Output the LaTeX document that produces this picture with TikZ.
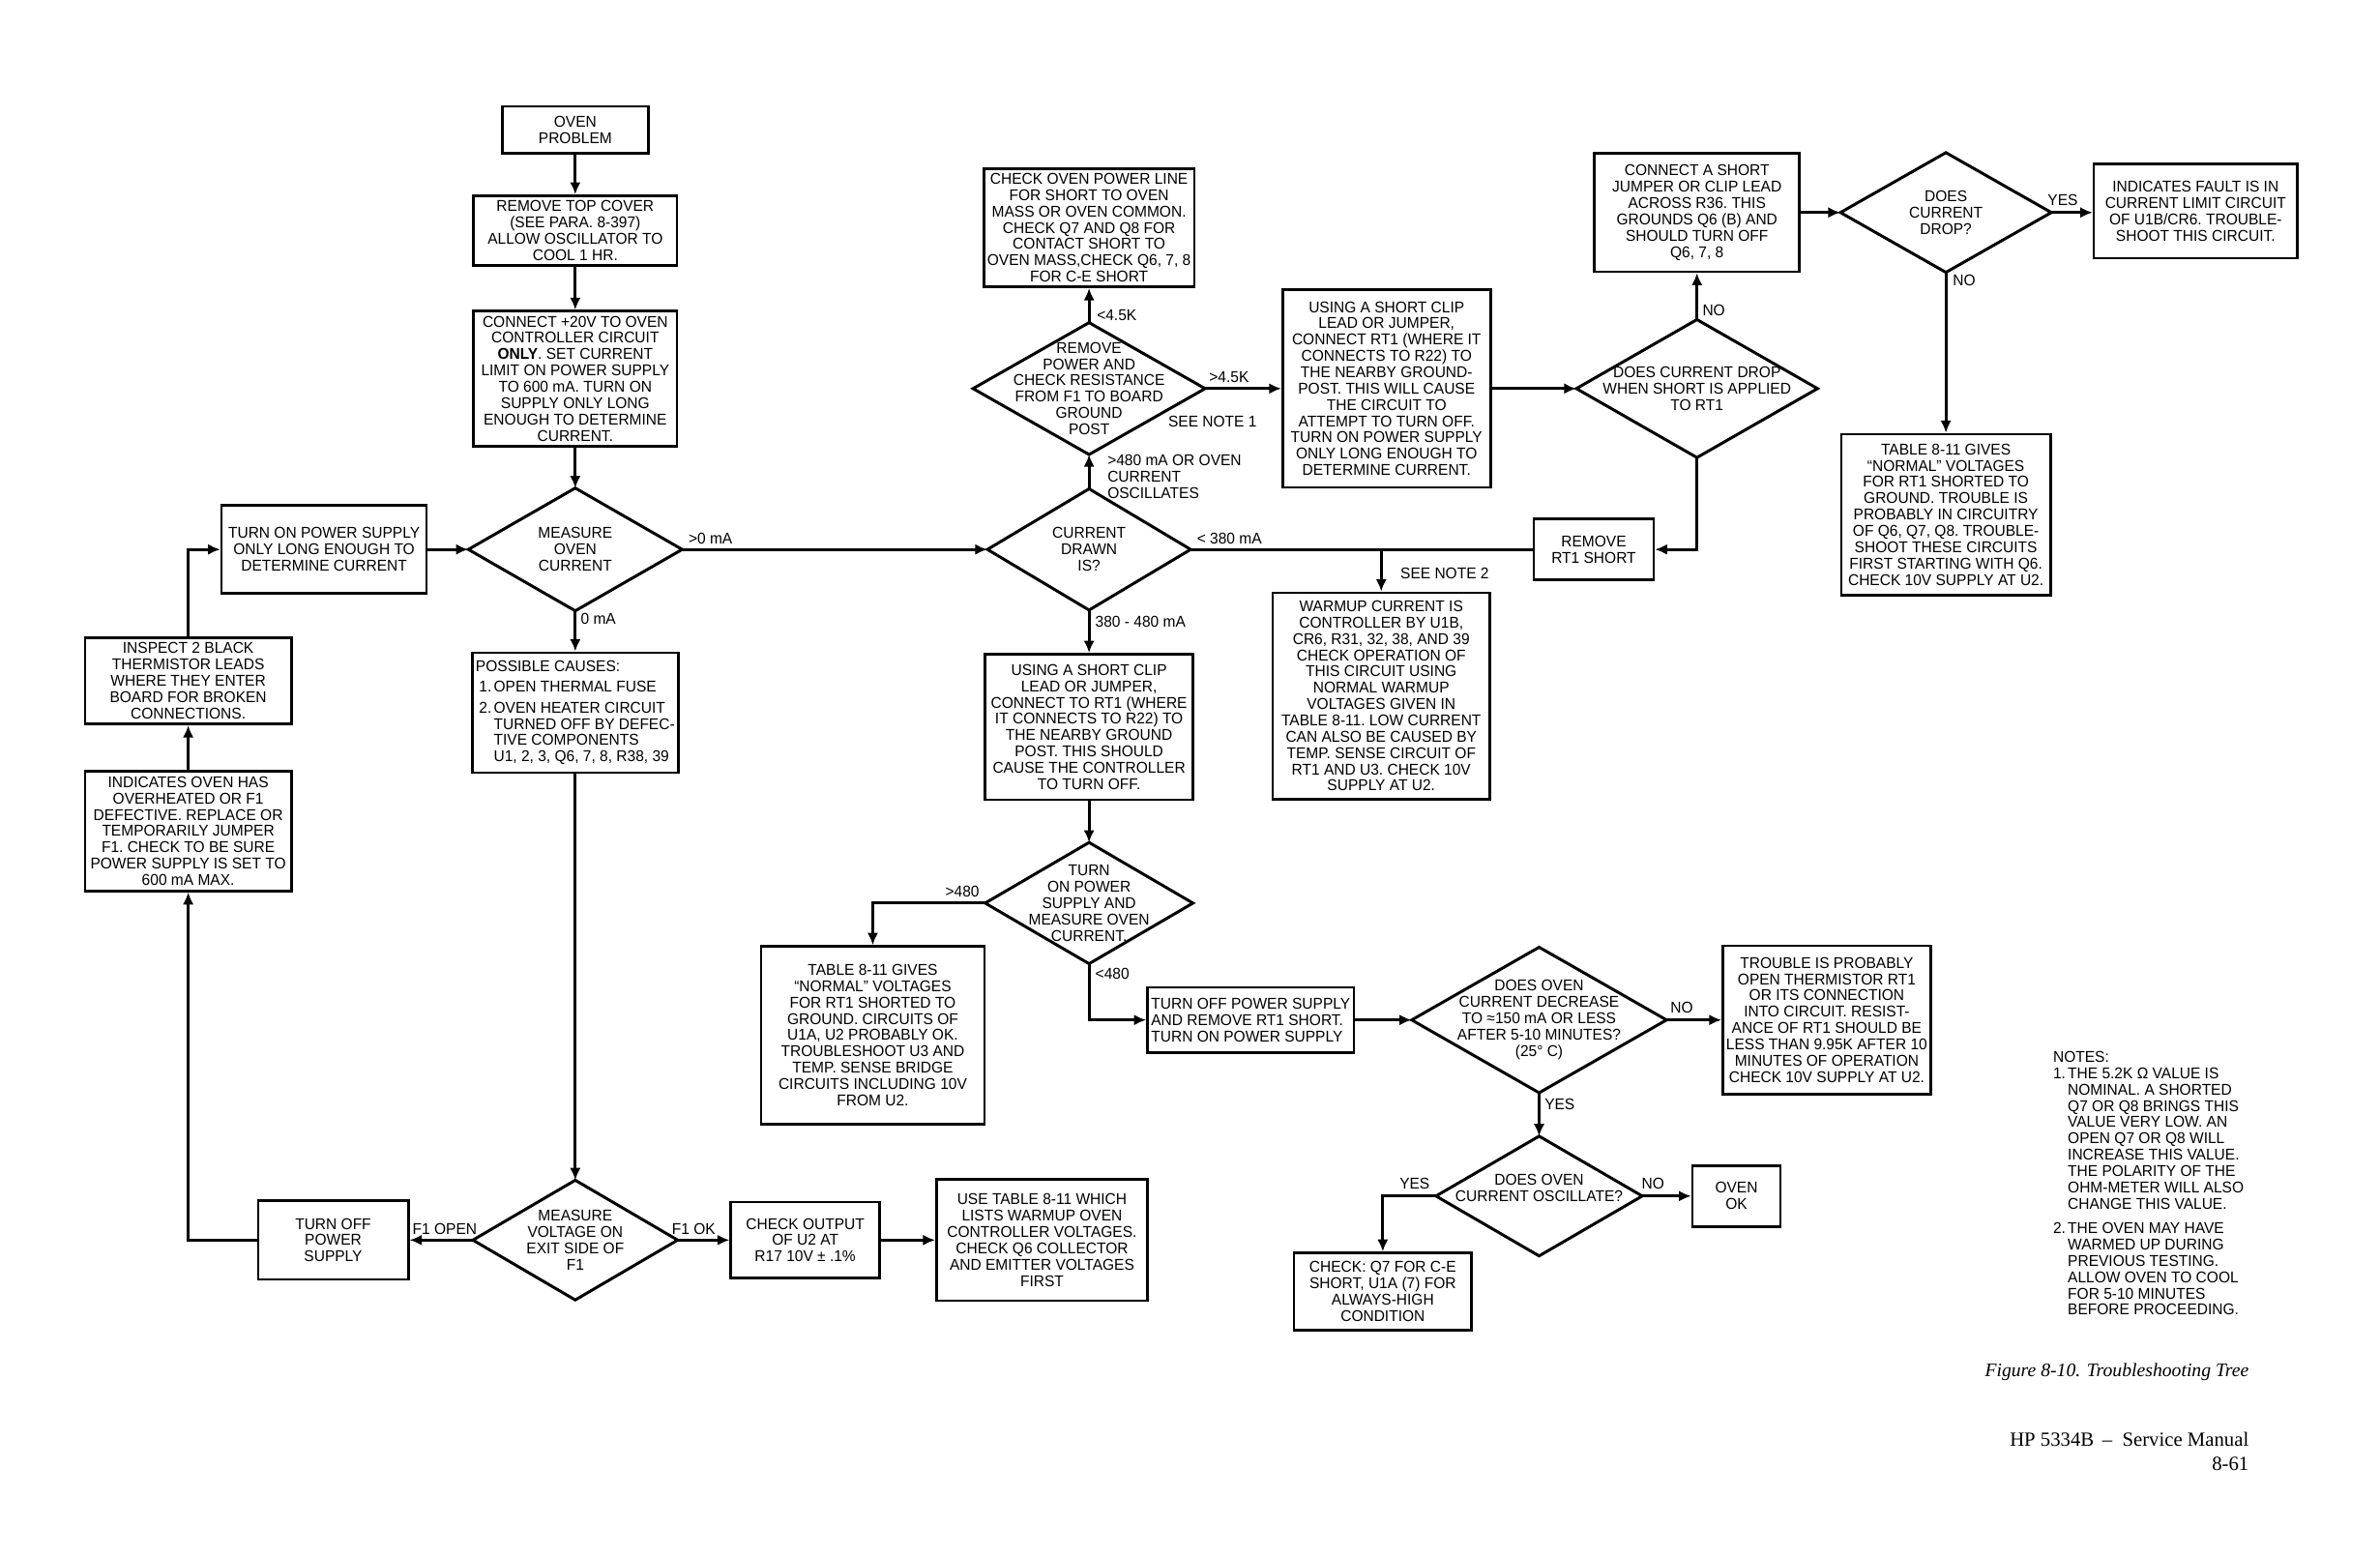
\documentclass[tikz,border=0pt]{standalone}
\usepackage{fontspec}
\usepackage{tikz}
\usetikzlibrary{arrows.meta}
\newfontfamily\flowfamily[FakeStretch=0.96]{Liberation Sans}
\newfontfamily\captionfamily{Liberation Serif}
\newcommand{\flowfont}{\flowfamily\fontsize{4.6}{4.8}\selectfont\frenchspacing}
\newcommand{\notenum}[1]{\makebox[4.3pt][l]{#1}}
\tikzset{sz/.style 2 args={minimum width=#1*0.44656pt,minimum height=#2*0.44656pt}}

\begin{document}
\begin{tikzpicture}[
 x=0.44656pt, y=-0.44656pt,
 every node/.style={font=\flowfont},
 box/.style={draw,line width=0.75pt,align=center,inner sep=1pt},
 decision/.style={inner sep=0pt,align=center},
 lab/.style={inner sep=1pt},
 arr/.style={line width=0.8pt,-{Latex[length=3.6pt,width=3.2pt]}},
 wire/.style={line width=0.8pt},
]
\path[use as bounding box,fill=white] (0,0) rectangle (1568,1025);

\node[box,sz={96}{31}] (problem) at (379,85.5) {OVEN\\PROBLEM};
\node[box,sz={134}{46}] (cover) at (379,152) {REMOVE TOP COVER\\(SEE PARA. 8-397)\\ALLOW OSCILLATOR TO\\COOL 1 HR.};
\node[box,sz={134}{89}] (connect) at (379,249.5) {CONNECT +20V TO OVEN\\CONTROLLER CIRCUIT\\\textbf{ONLY}. SET CURRENT\\LIMIT ON POWER SUPPLY\\TO 600 mA. TURN ON\\SUPPLY ONLY LONG\\ENOUGH TO DETERMINE\\CURRENT.};
\node[decision,sz={140}{80}] (measure) at (379,362) {MEASURE\\OVEN\\CURRENT};
\node[box,sz={135}{58}] (turnon) at (213.5,362) {TURN ON POWER SUPPLY\\ONLY LONG ENOUGH TO\\DETERMINE CURRENT};
\node[box,sz={136}{57}] (inspect) at (124,448.5) {INSPECT 2 BLACK\\THERMISTOR LEADS\\WHERE THEY ENTER\\BOARD FOR BROKEN\\CONNECTIONS.};
\node[box,sz={136}{79}] (overheat) at (124,547.5) {INDICATES OVEN HAS\\OVERHEATED OR F1\\DEFECTIVE. REPLACE OR\\TEMPORARILY JUMPER\\F1. CHECK TO BE SURE\\POWER SUPPLY IS SET TO\\600 mA MAX.};
\node[box,sz={134}{79},align=left] (causes) at (379,469.5) {POSSIBLE CAUSES:\\[1.3pt]\hspace*{1pt}\notenum{1.}OPEN THERMAL FUSE\\[1.3pt]\hspace*{1pt}\notenum{2.}OVEN HEATER CIRCUIT\\\hspace*{5.3pt}TURNED OFF BY DEFEC-\\\hspace*{5.3pt}TIVE COMPONENTS\\\hspace*{5.3pt}U1, 2, 3, Q6, 7, 8, R38, 39};
\node[decision,sz={134}{78}] (voltage) at (379,817) {MEASURE\\VOLTAGE ON\\EXIT SIDE OF\\F1};
\node[box,sz={99}{52}] (turnoff) at (219.5,817) {TURN OFF\\POWER\\SUPPLY};
\node[box,sz={98}{50}] (output) at (530.5,817) {CHECK OUTPUT\\OF U2 AT\\R17 10V ± .1\%};
\node[box,sz={139}{80}] (usetable) at (686.5,817) {USE TABLE 8-11 WHICH\\LISTS WARMUP OVEN\\CONTROLLER VOLTAGES.\\CHECK Q6 COLLECTOR\\AND EMITTER VOLTAGES\\FIRST};

\node[decision,sz={133}{79}] (drawn) at (717.5,362) {CURRENT\\DRAWN\\IS?};
\node[decision,sz={152}{86}] (resist) at (717.5,256) {REMOVE\\POWER AND\\CHECK RESISTANCE\\FROM F1 TO BOARD\\GROUND\\POST};
\node[box,sz={137}{78}] (powerline) at (717.5,150) {CHECK OVEN POWER LINE\\FOR SHORT TO OVEN\\MASS OR OVEN COMMON.\\CHECK Q7 AND Q8 FOR\\CONTACT SHORT TO\\OVEN MASS,CHECK Q6, 7, 8\\FOR C-E SHORT};
\node[box,sz={137}{130}] (clipup) at (913.5,256) {USING A SHORT CLIP\\LEAD OR JUMPER,\\CONNECT RT1 (WHERE IT\\CONNECTS TO R22) TO\\THE NEARBY GROUND-\\POST. THIS WILL CAUSE\\THE CIRCUIT TO\\ATTEMPT TO TURN OFF.\\TURN ON POWER SUPPLY\\ONLY LONG ENOUGH TO\\DETERMINE CURRENT.};
\node[decision,sz={158}{90}] (dropq) at (1118,256) {DOES CURRENT DROP\\WHEN SHORT IS APPLIED\\TO RT1};
\node[box,sz={135}{78}] (jumper) at (1118,140) {CONNECT A SHORT\\JUMPER OR CLIP LEAD\\ACROSS R36. THIS\\GROUNDS Q6 (B) AND\\SHOULD TURN OFF\\Q6, 7, 8};
\node[decision,sz={138}{78}] (drop) at (1282,140) {DOES\\CURRENT\\DROP?};
\node[box,sz={134}{62}] (fault) at (1446.5,139) {INDICATES FAULT IS IN\\CURRENT LIMIT CIRCUIT\\OF U1B/CR6. TROUBLE-\\SHOOT THIS CIRCUIT.};
\node[box,sz={138}{106}] (normalq) at (1282,339) {TABLE 8-11 GIVES\\“NORMAL” VOLTAGES\\FOR RT1 SHORTED TO\\GROUND. TROUBLE IS\\PROBABLY IN CIRCUITRY\\OF Q6, Q7, Q8. TROUBLE-\\SHOOT THESE CIRCUITS\\FIRST STARTING WITH Q6.\\CHECK 10V SUPPLY AT U2.};
\node[box,sz={79}{40}] (remove) at (1050,362) {REMOVE\\RT1 SHORT};
\coordinate (j380) at (910,362);
\node[box,sz={143}{136}] (warmup) at (910,458.5) {WARMUP CURRENT IS\\CONTROLLER BY U1B,\\CR6, R31, 32, 38, AND 39\\CHECK OPERATION OF\\THIS CIRCUIT USING\\NORMAL WARMUP\\VOLTAGES GIVEN IN\\TABLE 8-11. LOW CURRENT\\CAN ALSO BE CAUSED BY\\TEMP. SENSE CIRCUIT OF\\RT1 AND U3. CHECK 10V\\SUPPLY AT U2.};

\node[box,sz={137}{96}] (cliplow) at (717.5,479) {USING A SHORT CLIP\\LEAD OR JUMPER,\\CONNECT TO RT1 (WHERE\\IT CONNECTS TO R22) TO\\THE NEARBY GROUND\\POST. THIS SHOULD\\CAUSE THE CONTROLLER\\TO TURN OFF.};
\node[decision,sz={136}{79}] (turnmeas) at (717.5,595) {TURN\\ON POWER\\SUPPLY AND\\MEASURE OVEN\\CURRENT.};
\node[box,sz={147}{117}] (normalu) at (575,682) {TABLE 8-11 GIVES\\“NORMAL” VOLTAGES\\FOR RT1 SHORTED TO\\GROUND. CIRCUITS OF\\U1A, U2 PROBABLY OK.\\TROUBLESHOOT U3 AND\\TEMP. SENSE BRIDGE\\CIRCUITS INCLUDING 10V\\FROM U2.};
\node[box,sz={136}{43},align=left] (turnoffrm) at (824,672) {TURN OFF POWER SUPPLY\\AND REMOVE RT1 SHORT.\\TURN ON POWER SUPPLY};
\node[decision,sz={167}{95}] (decrease) at (1014,672) {DOES OVEN\\CURRENT DECREASE\\TO ≈150 mA OR LESS\\AFTER 5-10 MINUTES?\\(25° C)};
\node[box,sz={137}{98}] (trouble) at (1203.5,672) {TROUBLE IS PROBABLY\\OPEN THERMISTOR RT1\\OR ITS CONNECTION\\INTO CIRCUIT. RESIST-\\ANCE OF RT1 SHOULD BE\\LESS THAN 9.95K AFTER 10\\MINUTES OF OPERATION\\CHECK 10V SUPPLY AT U2.};
\node[decision,sz={135}{78}] (oscillate) at (1014,788) {DOES OVEN\\CURRENT OSCILLATE?\\\mbox{}};
\node[box,sz={58}{40}] (ovenok) at (1144,788) {OVEN\\OK};
\node[box,sz={117}{51}] (checkq) at (911,851) {CHECK: Q7 FOR C-E\\SHORT, U1A (7) FOR\\ALWAYS-HIGH\\CONDITION};

\foreach \n in {measure,voltage,drawn,resist,dropq,drop,turnmeas,decrease,oscillate}
  \draw[line width=0.85pt] (\n.north) -- (\n.east) -- (\n.south) -- (\n.west) -- cycle;

\draw[arr] (problem.south) -- (cover.north);
\draw[arr] (cover.south) -- (connect.north);
\draw[arr] (connect.south) -- (measure.north);
\draw[arr] (turnon.east) -- (measure.west);
\draw[arr] (measure.east) -- (drawn.west);
\draw[arr] (measure.south) -- (causes.north);
\draw[arr] (causes.south) -- (voltage.north);
\draw[arr] (voltage.west) -- (turnoff.east);
\draw[arr] (voltage.east) -- (output.west);
\draw[arr] (output.east) -- (usetable.west);
\draw[arr] (turnoff.west) -| (overheat.south);
\draw[arr] (overheat.north) -- (inspect.south);
\draw[arr] (inspect.north) |- (turnon.west);
\draw[arr] (drawn.north) -- (resist.south);
\draw[arr] (resist.north) -- (powerline.south);
\draw[arr] (resist.east) -- (clipup.west);
\draw[arr] (clipup.east) -- (dropq.west);
\draw[arr] (dropq.north) -- (jumper.south);
\draw[arr] (jumper.east) -- (drop.west);
\draw[arr] (drop.east) -- (drop.east -| fault.west);
\draw[arr] (drop.south) -- (normalq.north);
\draw[arr] (dropq.south) |- (remove.east);
\draw[wire] (drawn.east) -- (remove.west);
\draw[arr] (j380) -- (warmup.north);
\draw[arr] (drawn.south) -- (cliplow.north);
\draw[arr] (cliplow.south) -- (turnmeas.north);
\draw[arr] (turnmeas.west) -| (normalu.north);
\draw[arr] (turnmeas.south) |- (turnoffrm.west);
\draw[arr] (turnoffrm.east) -- (decrease.west);
\draw[arr] (decrease.east) -- (trouble.west);
\draw[arr] (decrease.south) -- (oscillate.north);
\draw[arr] (oscillate.east) -- (ovenok.west);
\draw[arr] (oscillate.west) -| (checkq.north);

\node[lab,anchor=south west] (gt0) at (451,361) {>0 mA};
\node[lab,anchor=west] (eq0) at (380,408) {0 mA};
\node[lab,anchor=south] (f1open) at (293,816) {F1 OPEN};
\node[lab,anchor=south] (f1ok) at (457,816) {F1 OK};
\node[lab,anchor=west] (lt45) at (720,207.5) {<4.5K};
\node[lab,anchor=south west] (gt45) at (794,255) {>4.5K};
\node[lab,anchor=west] (note1) at (767,278) {SEE NOTE 1};
\node[lab,anchor=north west,align=left] (gt480ma) at (727,297) {>480 mA OR OVEN\\CURRENT\\OSCILLATES};
\node[lab,anchor=south west] (lt380) at (786,361) {< 380 mA};
\node[lab,anchor=west] (note2) at (920,378) {SEE NOTE 2};
\node[lab,anchor=west] (mid380) at (719,409.5) {380 - 480 mA};
\node[lab,anchor=south] (gt480) at (634,594) {>480};
\node[lab,anchor=west] (lt480) at (719,641.5) {<480};
\node[lab,anchor=south] (decno) at (1108,670) {NO};
\node[lab,anchor=west] (decyes) at (1015,727.5) {YES};
\node[lab,anchor=south] (oscno) at (1089,786) {NO};
\node[lab,anchor=south] (oscyes) at (932,786) {YES};
\node[lab,anchor=west] (dropqno) at (1119,204.5) {NO};
\node[lab,anchor=south] (dropyes) at (1359,138) {YES};
\node[lab,anchor=west] (dropno) at (1284,185) {NO};

\node[lab,anchor=north west,align=left] (notes) at (1350,690) {NOTES:\\\notenum{1.}THE 5.2K Ω VALUE IS\\\hspace*{4.3pt}NOMINAL. A SHORTED\\\hspace*{4.3pt}Q7 OR Q8 BRINGS THIS\\\hspace*{4.3pt}VALUE VERY LOW. AN\\\hspace*{4.3pt}OPEN Q7 OR Q8 WILL\\\hspace*{4.3pt}INCREASE THIS VALUE.\\\hspace*{4.3pt}THE POLARITY OF THE\\\hspace*{4.3pt}OHM-METER WILL ALSO\\\hspace*{4.3pt}CHANGE THIS VALUE.\\[2.4pt]\notenum{2.}THE OVEN MAY HAVE\\\hspace*{4.3pt}WARMED UP DURING\\\hspace*{4.3pt}PREVIOUS TESTING.\\\hspace*{4.3pt}ALLOW OVEN TO COOL\\\hspace*{4.3pt}FOR 5-10 MINUTES\\\hspace*{4.3pt}BEFORE PROCEEDING.};

\node[anchor=east,inner sep=0pt,font=\captionfamily\itshape\fontsize{5.6}{6.7}\selectfont] (figcap) at (1482,904) {Figure 8-10. Troubleshooting Tree};
\node[anchor=east,align=right,inner sep=0pt,font=\captionfamily\fontsize{5.9}{7.1}\selectfont] (footer) at (1482,956) {HP 5334B \,–\ \ Service Manual\\8-61};
\end{tikzpicture}
\end{document}
